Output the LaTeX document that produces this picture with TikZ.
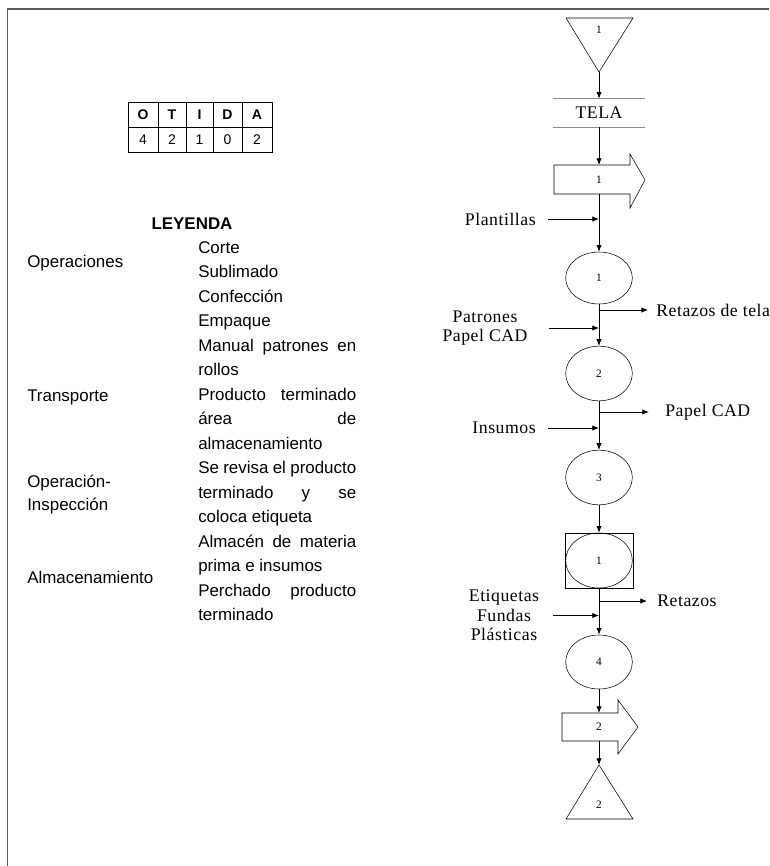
\documentclass[tikz,border=0pt]{standalone}
\usepackage{fontspec}
\setmainfont{Liberation Serif}
\setsansfont{Liberation Sans}
\newfontfamily\chartfont[LetterSpace=3]{Liberation Serif}
\usetikzlibrary{positioning, shapes.geometric, arrows.meta, calc}
\definecolor{frame}{HTML}{5a5a5a}
\definecolor{rule}{HTML}{8a8a8a}
\newcommand{\jl}[1]{\makebox[118.5pt][s]{#1}}

\begin{document}
\begin{tikzpicture}[x=0.75pt, y=-0.75pt,
    flow/.style={-{Latex[length=5pt,width=4pt]}, line width=0.6pt},
    oper/.style={draw, ellipse, minimum width=50pt, minimum height=40pt, inner sep=0pt, font=\fontsize{8.5}{9}\selectfont},
    num/.style={inner sep=0pt, font=\fontsize{8.5}{9}\selectfont},
    lab/.style={inner sep=0pt, font=\chartfont\fontsize{13.3}{14.5}\selectfont, align=center},
    leg/.style={font=\sffamily\fontsize{12.7}{15}\selectfont, anchor=west, inner sep=0pt, text height=9pt, text depth=2.5pt},
    cell/.style={font=\sffamily\fontsize{10.5}{11}\selectfont},
]
\useasboundingbox (0,0) rectangle (769,866);

% Frame
\draw[frame, line width=1.1pt] (7.5,866) -- (7.5,9) -- (769,9);

% Summary table
\draw[line width=0.6pt] (128,102) rectangle (272,152);
\draw[line width=0.6pt] (128,127) -- (272,127);
\foreach \x in {158,186,213,242} \draw[line width=0.6pt] (\x,102) -- (\x,152);
\foreach \x/\h/\v [count=\i] in {143/O/4, 172/T/2, 199.5/I/1, 227.5/D/0, 257/A/2} {
  \node[cell, font=\sffamily\bfseries\fontsize{10.5}{11}\selectfont] (h\i) at (\x,114.5) {\h};
  \node[cell] (v\i) at (\x,139.5) {\v};
}

% Legend
\node[font=\sffamily\bfseries\fontsize{12.7}{15}\selectfont] (leyenda) at (192,224) {LEYENDA};
\node[leg] (op) at (27,263) {Operaciones};
\node[leg] (tp) at (27,397) {Transporte};
\node[leg] (oi1) at (27,483) {Operación-};
\node[leg] (oi2) at (27,506) {Inspección};
\node[leg] (alm) at (27,579) {Almacenamiento};
\foreach \t [count=\i from 0] in {Corte, Sublimado, Confección, Empaque,
    \jl{Manual patrones en}, rollos, \jl{Producto terminado}, \jl{área de},
    almacenamiento, \jl{Se revisa el producto}, \jl{terminado y se}, coloca etiqueta,
    \jl{Almacén de materia}, prima e insumos, \jl{Perchado producto}, terminado}
  \node[leg] (d\i) at (198, 249+24.5*\i) {\t};

% Row: storage 1 and TELA
\node[num] (t1) at (599,30) {1};
\draw (566,18) -- (633,18) -- (599,72) -- cycle;
\coordinate (t1tip) at (599,72);
\node[lab, minimum width=68.25pt, minimum height=21pt] (tela) at (599,113) {TELA};
\draw[rule] (tela.north west) -- (tela.north east) (tela.south west) -- (tela.south east);
\draw[flow] (t1tip) -- (tela.north);

% Transport 1
\node[num] (tr1) at (599,180) {1};
\draw ($(tr1)+(-45,-15)$) -- ++(76,0) -- ++(0,-11) -- ++(15,26) -- ++(-15,28) -- ++(0,-14) -- ++(-76,0) -- cycle;
\coordinate (tr1n) at ($(tr1)+(0,-15)$);
\coordinate (tr1s) at ($(tr1)+(0,14)$);
\draw[flow] (tela.south) -- (tr1n);

% Operations
\node[oper, minimum height=39pt] (c1) at (599,278) {1};
\node[oper, minimum height=41pt] (c2) at (599,373.5) {2};
\node[oper, minimum height=41pt] (c3) at (599,477.5) {3};
\node[draw, minimum width=51pt, minimum height=41.25pt] (insp) at (599,560.5) {};
\node[oper, minimum height=41.25pt] (ci) at (599,560.5) {1};
\node[oper, minimum height=40.5pt] (c4) at (599,662) {4};

\draw[flow] (tr1s) -- (c1.north);
\draw[flow] (c1.south) -- (c2.north);
\draw[flow] (c2.south) -- (c3.north);
\draw[flow] (c3.south) -- (insp.north);
\draw[flow] (insp.south) -- (c4.north);

% Inputs
\node[lab, anchor=east] (plant) at (536,219) {Plantillas};
\draw[flow] ($(plant.east)+(12,0)$) -- (plant.east -| c1);
\node[lab] (pat) at (485,328) {Patrones\\Papel CAD};
\draw[flow] ($(pat)+(64,0)$) -- (pat -| c2);
\node[lab, anchor=east] (ins) at (536,428) {Insumos};
\draw[flow] ($(ins.east)+(12,0)$) -- (ins.east -| c3);
\node[lab] (etq) at (504,615.5) {Etiquetas\\Fundas\\Plásticas};
\draw[flow] ($(etq)+(49,0)$) -- (etq -| c4);

% Outputs
\node[lab, anchor=west] (ret1) at (656,310) {Retazos de tela};
\draw[flow] (ret1.west -| c1) -- ($(ret1.west)+(-8,0)$);
\node[lab, anchor=west] (pcad) at (665,412) {Papel CAD};
\draw[flow] (pcad.west -| c2) -- ($(pcad.west)+(-16,0)$);
\node[lab, anchor=west] (ret2) at (657,601) {Retazos};
\draw[flow] (ret2.west -| c4) -- ($(ret2.west)+(-10,0)$);

% Transport 2 and storage 2
\node[num] (tr2) at (599,727) {2};
\draw ($(tr2)+(-37,-14)$) -- ++(56,0) -- ++(0,-13) -- ++(20,27) -- ++(-20,27) -- ++(0,-13) -- ++(-56,0) -- cycle;
\coordinate (tr2n) at ($(tr2)+(0,-14)$);
\coordinate (tr2s) at ($(tr2)+(0,14)$);
\draw[flow] (c4.south) -- (tr2n);
\node[num] (t2) at (599,805) {2};
\draw (599,765) -- (633,819) -- (566,819) -- cycle;
\coordinate (t2tip) at (599,765);
\draw[flow] (tr2s) -- (t2tip);

\end{tikzpicture}
\end{document}
